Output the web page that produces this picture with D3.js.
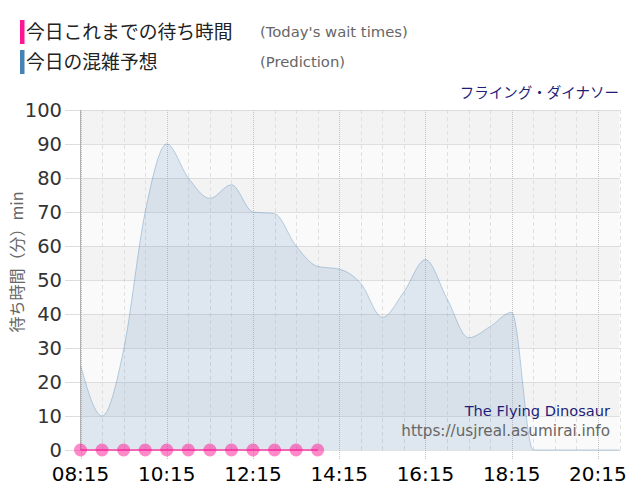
<!DOCTYPE html>
<html>
<head>
<meta charset="utf-8">
<script src="https://cdn.jsdelivr.net/npm/d3@7"></script>
<style>
  body { margin: 0; background: #fff; }
  svg { display: block; }
</style>
</head>
<body>
<svg id="lienzo" width="640" height="500"></svg>
<script>
// datos del grafico
const times = ["08:15","08:45","09:15","09:45","10:15","10:45","11:15","11:45","12:15","12:45",
               "13:15","13:45","14:15","14:45","15:15","15:45","16:15","16:45","17:15","17:45",
               "18:15","18:45","19:15","19:45","20:15","20:45"];
const prediction = [25,10,29.5,70,90,80,74,78,70,69.5,
                    60,54,53.2,49,39,46.5,56,44.5,33,36.3,
                    40.5,0,0,0,0,0];
const actualTimes = ["08:15","08:45","09:15","09:45","10:15","10:45","11:15","11:45","12:15","12:45","13:15","13:45"];
const actualValues = [0,0,0,0,0,0,0,0,0,0,0,0];
const xTickLabels = ["08:15","10:15","12:15","14:15","16:15","18:15","20:15"];
const yTicks = [0,10,20,30,40,50,60,70,80,90,100];

const parseTime = d3.timeParse("%H:%M");
const svg = d3.select('#lienzo');

const plotLeft = 80.5, plotRight = 619.5, plotTop = 110, plotBottom = 450;

const x = d3.scaleTime()
    .domain([parseTime(times[0]), parseTime(times[times.length - 1])])
    .range([plotLeft, plotRight]);
const y = d3.scaleLinear().domain([0, 100]).range([plotBottom, plotTop]);

// bandas alternas
svg.append('g').selectAll('rect')
    .data(d3.range(10))
    .enter()
    .append('rect')
    .attr('x', plotLeft)
    .attr('y', d => y(d * 10 + 10))
    .attr('width', plotRight - plotLeft)
    .attr('height', d => y(d * 10) - y(d * 10 + 10))
    .attr('fill', d => d % 2 === 1 ? '#f3f3f3' : '#fafafa');

// lineas verticales menores (cada 30 min)
svg.append('g').selectAll('line')
    .data(times.filter(t => !xTickLabels.includes(t)))
    .enter()
    .append('line')
    .attr('x1', d => Math.round(x(parseTime(d))) + 0.5)
    .attr('x2', d => Math.round(x(parseTime(d))) + 0.5)
    .attr('y1', plotTop)
    .attr('y2', plotBottom)
    .attr('stroke', '#e0e0e0')
    .attr('stroke-dasharray', '4,3');

// lineas horizontales
svg.append('g').selectAll('line')
    .data(yTicks)
    .enter()
    .append('line')
    .attr('x1', 65)
    .attr('x2', plotLeft)
    .attr('y1', d => Math.round(y(d)) + 0.5)
    .attr('y2', d => Math.round(y(d)) + 0.5)
    .attr('stroke', '#dddddd');
svg.append('g').selectAll('line')
    .data(yTicks)
    .enter()
    .append('line')
    .attr('x1', plotLeft)
    .attr('x2', plotRight)
    .attr('y1', d => Math.round(y(d)) + 0.5)
    .attr('y2', d => Math.round(y(d)) + 0.5)
    .attr('stroke', '#c4c4c4')
    .attr('stroke-dasharray', '1,1');

// lineas verticales mayores
svg.append('g').selectAll('line')
    .data(xTickLabels)
    .enter()
    .append('line')
    .attr('x1', d => Math.round(x(parseTime(d))) + 0.5)
    .attr('x2', d => Math.round(x(parseTime(d))) + 0.5)
    .attr('y1', plotTop)
    .attr('y2', plotBottom + 10)
    .attr('stroke', '#c4c4c4')
    .attr('stroke-dasharray', '1,1');

// area de prediccion
const predData = times.map((t, i) => ({ t: parseTime(t), v: prediction[i] }));
svg.append('path')
    .datum(predData)
    .attr('fill', 'rgba(70,130,180,0.15)')
    .attr('d', d3.area().curve(d3.curveMonotoneX).x(d => x(d.t)).y0(y(0)).y1(d => y(d.v)));
svg.append('path')
    .datum(predData)
    .attr('fill', 'none')
    .attr('stroke', 'rgba(70,130,180,0.35)')
    .attr('stroke-width', 1)
    .attr('d', d3.line().curve(d3.curveMonotoneX).x(d => x(d.t)).y(d => y(d.v)));

// eje y
svg.append('line')
    .attr('x1', plotLeft).attr('x2', plotLeft)
    .attr('y1', plotTop).attr('y2', plotBottom)
    .attr('stroke', '#b0b0b0');

svg.append('g').selectAll('text')
    .data(yTicks)
    .enter()
    .append('text')
    .attr('x', 62)
    .attr('y', d => y(d))
    .attr('dy', '0.36em')
    .attr('text-anchor', 'end')
    .attr('font-family', 'DejaVu Sans')
    .attr('font-size', '19.5px')
    .attr('fill', '#333')
    .text(d => d);

svg.append('g').selectAll('text')
    .data(xTickLabels)
    .enter()
    .append('text')
    .attr('x', d => x(parseTime(d)))
    .attr('y', 481)
    .attr('text-anchor', 'middle')
    .attr('font-family', 'DejaVu Sans')
    .attr('font-size', '20px')
    .attr('fill', '#000')
    .text(d => d);

svg.append('text')
    .attr('transform', 'translate(23,262) rotate(-90)')
    .attr('text-anchor', 'middle')
    .attr('font-family', 'Noto Sans CJK JP')
    .attr('font-size', '16px')
    .attr('fill', '#666')
    .text('待ち時間（分）min');

// serie real
const actData = actualTimes.map((t, i) => ({ t: parseTime(t), v: actualValues[i] }));
svg.append('path')
    .datum(actData)
    .attr('fill', 'none')
    .attr('stroke', 'rgba(255,20,147,0.6)')
    .attr('stroke-width', 2)
    .attr('d', d3.line().x(d => x(d.t)).y(d => y(d.v)));
svg.append('g').selectAll('circle')
    .data(actData)
    .enter()
    .append('circle')
    .attr('cx', d => x(d.t))
    .attr('cy', d => y(d.v))
    .attr('r', 6.5)
    .attr('fill', 'rgba(255,20,147,0.5)');

// leyenda
const legend = [
    { color: '#ff1493', jp: '今日これまでの待ち時間', en: "(Today's wait times)" },
    { color: '#4682b4', jp: '今日の混雑予想', en: '(Prediction)' }
];
const lg = svg.append('g').selectAll('g')
    .data(legend)
    .enter()
    .append('g')
    .attr('transform', (d, i) => `translate(0,${20 + i * 30})`);
lg.append('rect')
    .attr('x', 20).attr('y', 0)
    .attr('width', 4.5).attr('height', 24)
    .attr('fill', d => d.color);
lg.append('text')
    .attr('x', 26).attr('y', 19)
    .attr('font-family', 'Noto Sans CJK JP')
    .attr('font-size', '18.8px')
    .attr('fill', '#222')
    .text(d => d.jp);
lg.append('text')
    .attr('x', 260).attr('y', 17)
    .attr('font-family', 'DejaVu Sans')
    .attr('font-size', '14.8px')
    .attr('fill', '#666')
    .text(d => d.en);

svg.append('text')
    .attr('x', 619).attr('y', 98)
    .attr('text-anchor', 'end')
    .attr('font-family', 'Noto Sans CJK JP')
    .attr('font-size', '14.5px')
    .attr('fill', '#1e1e78')
    .text('フライング・ダイナソー');

svg.append('text')
    .attr('x', 610).attr('y', 416)
    .attr('text-anchor', 'end')
    .attr('font-family', 'DejaVu Sans')
    .attr('font-size', '14.6px')
    .attr('fill', '#1e1e78')
    .text('The Flying Dinosaur');
svg.append('text')
    .attr('x', 610).attr('y', 436)
    .attr('text-anchor', 'end')
    .attr('font-family', 'DejaVu Sans')
    .attr('font-size', '15.2px')
    .attr('fill', '#666')
    .text('https://usjreal.asumirai.info');
</script>
</body>
</html>
